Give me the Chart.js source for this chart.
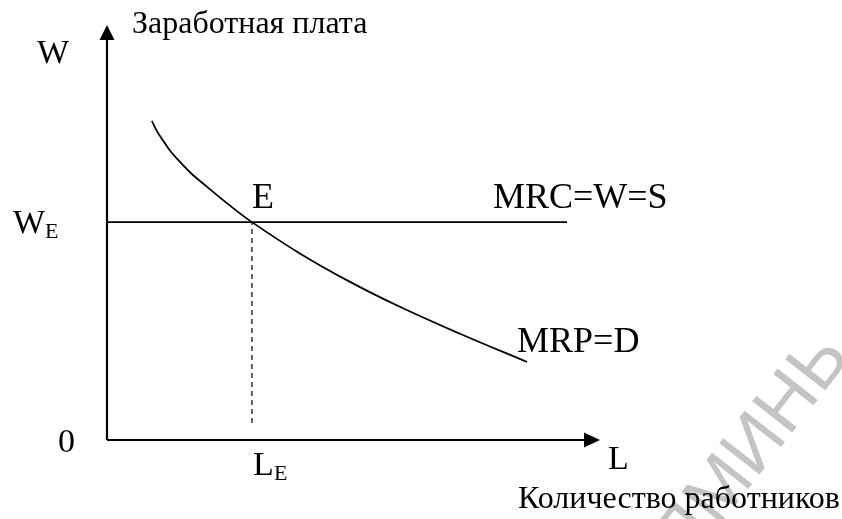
<!DOCTYPE html>
<html>
<head>
<meta charset="utf-8">
<script src="https://cdn.jsdelivr.net/npm/chart.js@4/dist/chart.umd.min.js"></script>
<style>
  html, body { margin: 0; padding: 0; background: #fff; }
  #wrap { width: 842px; height: 519px; position: relative; }
</style>
</head>
<body>
<div id="wrap"><canvas id="c" width="842" height="519"></canvas></div>
<script>
// Labour market: marginal revenue product (demand) vs. constant wage (supply)
const axisMax = { x: 100, y: 100 };

// Equilibrium wage and employment
const wageE = 52.5;
const laborE = 29.4;

// MRP = D curve (labour, wage)
const mrpL = [9.1, 10.1, 11.4, 12.8, 14.8, 17.2, 20.3, 24.5, 29.4, 39.2, 49.3, 59.4, 71.6, 85.2];
const mrpW = [76.9, 74.5, 72.1, 69.7, 67.0, 64.1, 61.0, 56.9, 52.5, 44.9, 38.1, 32.1, 25.6, 18.8];

// MRC = W = S horizontal line (labour range)
const mrcL = [0, 93.3];

// Dashed guide from equilibrium down toward the L axis
const guideW = [4.1, wageE];

const mrpData = mrpL.map((l, i) => ({ x: l, y: mrpW[i] }));
const mrcData = mrcL.map(l => ({ x: l, y: wageE }));
const guideData = guideW.map(w => ({ x: laborE, y: w }));

const SERIF = "'Liberation Serif', 'Times New Roman', serif";

const axesAndLabels = {
  id: 'axesAndLabels',
  afterDatasetsDraw(chart) {
    const { ctx, scales: { x, y } } = chart;
    const x0 = x.getPixelForValue(0), y0 = y.getPixelForValue(0);
    const xEnd = x.getPixelForValue(axisMax.x), yEnd = y.getPixelForValue(axisMax.y);
    ctx.save();
    // axes
    ctx.strokeStyle = '#000';
    ctx.fillStyle = '#000';
    ctx.lineWidth = 2.2;
    ctx.beginPath();
    ctx.moveTo(x0, y0); ctx.lineTo(x0, yEnd + 12);
    ctx.moveTo(x0, y0); ctx.lineTo(xEnd - 12, y0);
    ctx.stroke();
    // arrow heads
    ctx.beginPath();
    ctx.moveTo(x0, yEnd); ctx.lineTo(x0 - 7.5, yEnd + 15); ctx.lineTo(x0 + 7.5, yEnd + 15); ctx.closePath();
    ctx.fill();
    ctx.beginPath();
    ctx.moveTo(xEnd, y0); ctx.lineTo(xEnd - 16, y0 - 7.5); ctx.lineTo(xEnd - 16, y0 + 7.5); ctx.closePath();
    ctx.fill();

    const px = x.getPixelForValue(laborE), py = y.getPixelForValue(wageE);
    ctx.textAlign = 'left';
    ctx.textBaseline = 'alphabetic';
    const big = '34px ' + SERIF, mid = '36px ' + SERIF, sub = '22px ' + SERIF, cap = '32px ' + SERIF;

    ctx.font = big;
    ctx.fillText('W', x0 - 70, yEnd + 38);
    ctx.font = cap;
    ctx.fillText('Заработная плата', x0 + 25, yEnd + 8);

    ctx.font = mid;
    ctx.fillText('E', px, py - 14);
    const mrcEnd = x.getPixelForValue(mrcL[1]);
    ctx.fillText('MRC=W=S', mrcEnd - 74, py - 14);

    ctx.font = big;
    ctx.fillText('W', x0 - 94, py + 11);
    ctx.font = sub;
    ctx.fillText('E', x0 - 62, py + 16);

    ctx.font = big;
    ctx.fillText('0', x0 - 49, y0 + 12);
    ctx.fillText('L', px + 1, y0 + 35);
    ctx.font = sub;
    ctx.fillText('E', px + 22, y0 + 40);

    ctx.font = big;
    ctx.fillText('L', xEnd + 8, y0 + 29);

    const endX = x.getPixelForValue(mrpL[mrpL.length - 1]);
    const endY = y.getPixelForValue(mrpW[mrpW.length - 1]);
    ctx.font = mid;
    ctx.fillText('MRP=D', endX - 10, endY - 10);

    ctx.font = cap;
    ctx.fillText('Количество работников', xEnd - 82, y0 + 68);
    ctx.restore();
  }
};

// faint diagonal stamp in the lower right corner
const stamp = {
  id: 'stamp',
  beforeDatasetsDraw(chart) {
    const { ctx } = chart;
    ctx.save();
    ctx.translate(688, 566);
    ctx.rotate(-52 * Math.PI / 180);
    ctx.fillStyle = '#c4c4c4';
    ctx.font = "74px 'Liberation Sans', Arial, sans-serif";
    ctx.fillText('ЛМИНЬ', 0, 0);
    ctx.restore();
  }
};

new Chart(document.getElementById('c'), {
  type: 'scatter',
  data: {
    datasets: [
      { label: 'MRP=D', data: mrpData, showLine: true, borderColor: '#000', borderWidth: 1.8,
        pointRadius: 0, tension: 0.4 },
      { label: 'MRC=W=S', data: mrcData, showLine: true, borderColor: '#000', borderWidth: 1.8,
        pointRadius: 0 },
      { label: 'LE', data: guideData, showLine: true, borderColor: '#000', borderWidth: 1.2,
        borderDash: [5, 4], pointRadius: 0 }
    ]
  },
  options: {
    responsive: false,
    animation: false,
    layout: { padding: { left: 107, right: 242, top: 25, bottom: 79 } },
    plugins: { legend: { display: false }, tooltip: { enabled: false } },
    scales: {
      x: { type: 'linear', min: 0, max: axisMax.x, display: false },
      y: { type: 'linear', min: 0, max: axisMax.y, display: false }
    }
  },
  plugins: [stamp, axesAndLabels]
});
</script>
</body>
</html>
